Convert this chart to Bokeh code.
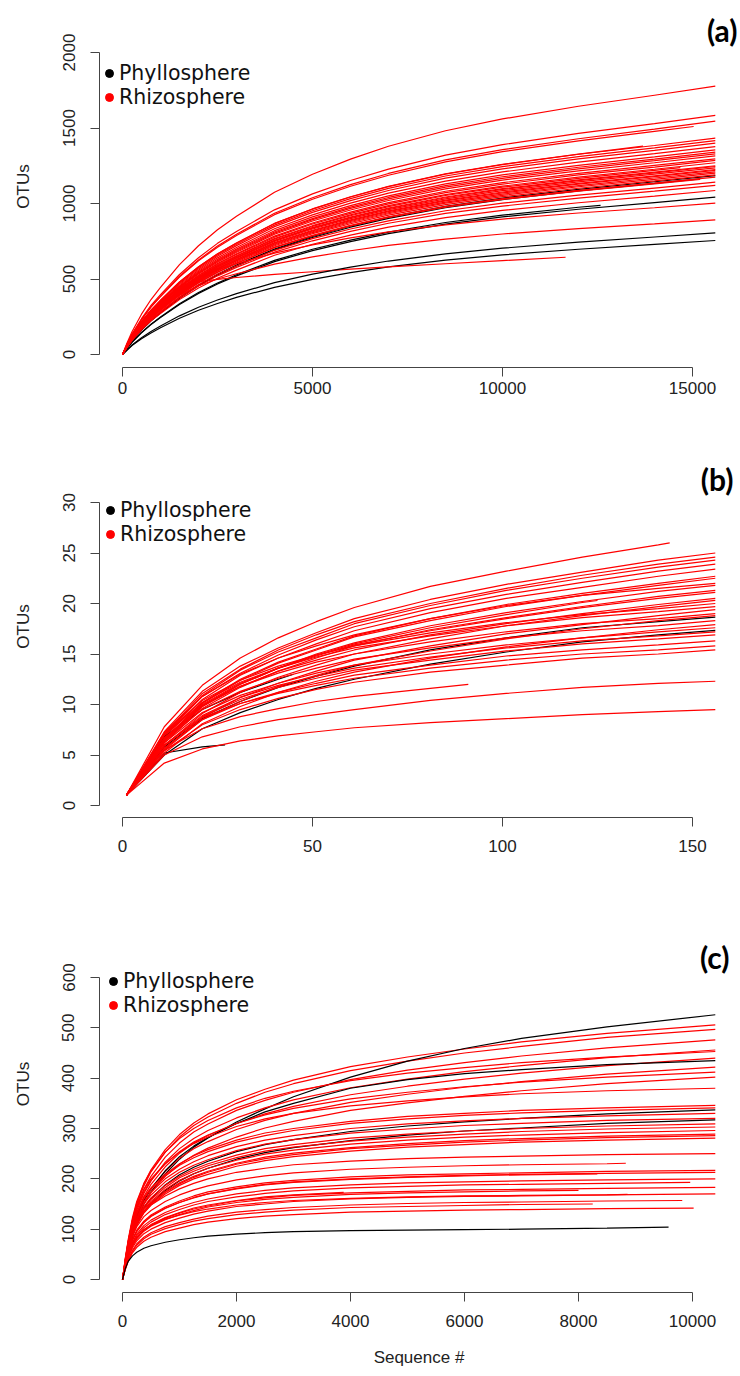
from bokeh.plotting import figure
from bokeh.layouts import column
from bokeh.models import (ColumnDataSource, Range1d, FixedTicker, Legend,
                          LegendItem, Label)
from bokeh.embed import file_html
from bokeh.resources import INLINE

P, R = "Phyllosphere", "Rhizosphere"
GROUP_COLOR = {P: "#000000", R: "#ff0000"}

# ---------------------------------------------------------------- panel (a)
# rarefaction depths at which each curve is sampled; a curve that stops
# earlier ends at its own depth (A_END), None = runs to the last depth
A_GRID = [0, 125, 250, 500, 750, 1000, 1500, 2000, 2500, 3000, 4000, 5000,
          6000, 7000, 8500, 10000, 12000, 14000, 15600]
A_XTICKS = [0, 5000, 10000, 15000]
A_YTICKS = [0, 500, 1000, 1500, 2000]
A_GROUP = [R, R, R, R, R, P, R, R, R, P, R, R, R, R, P, R, R, R, R, R,
           P, R, R, R, R, R, R, P, R, R, R, R, P, R, R, R, R, R, R]
A_END = [None, None, None, 15030, None, None, None, None, None, None,
         None, 13700, None, None, 12580, None, None, None, None, 14680,
         None, None, None, None, None, 11660, None, 15200, None, None,
         None, None, None, 15200, None, None, None, None, None]
A_OTUS = [
    [0, 80, 151, 267, 364, 444, 595, 720, 826, 915, 1075, 1194, 1294, 1379, 1482, 1560, 1644, 1717, 1777],
    [0, 71, 135, 237, 325, 396, 530, 641, 736, 815, 958, 1064, 1152, 1228, 1320, 1390, 1464, 1529, 1583],
    [0, 70, 131, 232, 317, 386, 518, 626, 718, 796, 935, 1038, 1125, 1199, 1289, 1357, 1429, 1492, 1545],
    [0, 69, 130, 230, 314, 383, 513, 620, 711, 788, 926, 1028, 1114, 1187, 1276, 1343, 1415, 1478, 1510],
    [0, 64, 122, 215, 294, 358, 480, 580, 666, 738, 867, 963, 1043, 1112, 1195, 1258, 1326, 1384, 1433],
    [0, 42, 81, 144, 198, 245, 331, 404, 467, 521, 615, 688, 748, 800, 863, 911, 962, 1006, 1042],
    [0, 64, 120, 213, 290, 354, 475, 574, 659, 730, 857, 952, 1032, 1100, 1182, 1244, 1311, 1369, 1417],
    [0, 63, 119, 210, 287, 350, 469, 567, 651, 721, 847, 941, 1019, 1086, 1168, 1229, 1295, 1352, 1400],
    [0, 62, 117, 207, 282, 344, 461, 558, 640, 709, 833, 925, 1002, 1069, 1148, 1209, 1274, 1330, 1377],
    [0, 30, 59, 104, 143, 177, 240, 293, 338, 378, 445, 498, 542, 580, 625, 660, 697, 729, 755],
    [0, 61, 115, 203, 278, 339, 454, 549, 630, 698, 820, 911, 986, 1051, 1130, 1190, 1253, 1309, 1355],
    [0, 65, 122, 215, 294, 359, 481, 581, 667, 739, 868, 964, 1045, 1114, 1197, 1260, 1327, 1380],
    [0, 60, 114, 201, 275, 335, 449, 543, 623, 690, 811, 900, 976, 1040, 1118, 1177, 1240, 1294, 1340],
    [0, 60, 113, 199, 272, 332, 445, 538, 618, 684, 804, 893, 968, 1031, 1108, 1167, 1229, 1284, 1329],
    [0, 42, 82, 146, 201, 248, 336, 410, 473, 528, 623, 697, 758, 811, 874, 923, 975, 987],
    [0, 59, 112, 197, 270, 329, 441, 533, 611, 677, 796, 884, 957, 1020, 1097, 1155, 1216, 1270, 1315],
    [0, 58, 110, 194, 266, 324, 434, 525, 603, 667, 784, 871, 943, 1006, 1081, 1138, 1199, 1252, 1296],
    [0, 58, 109, 193, 263, 321, 430, 520, 598, 662, 777, 864, 935, 997, 1072, 1128, 1189, 1241, 1285],
    [0, 57, 108, 191, 260, 318, 425, 514, 591, 654, 768, 853, 925, 986, 1059, 1115, 1175, 1227, 1270],
    [0, 57, 107, 189, 259, 316, 423, 511, 587, 650, 764, 848, 919, 979, 1053, 1108, 1167, 1219, 1237],
    [0, 47, 92, 164, 225, 278, 377, 460, 531, 593, 699, 782, 851, 910, 981, 1036, 1094, 1144, 1185],
    [0, 56, 106, 188, 256, 313, 419, 506, 581, 644, 756, 840, 910, 970, 1043, 1098, 1156, 1208, 1250],
    [0, 56, 106, 187, 255, 311, 417, 504, 579, 641, 753, 837, 906, 966, 1038, 1093, 1152, 1203, 1245],
    [0, 56, 105, 185, 253, 309, 414, 501, 575, 637, 748, 831, 900, 959, 1031, 1085, 1143, 1194, 1236],
    [0, 55, 104, 184, 251, 306, 410, 496, 570, 631, 741, 823, 892, 951, 1022, 1076, 1133, 1183, 1225],
    [0, 58, 110, 200, 280, 345, 440, 482, 498, 510, 530, 548, 565, 580, 601, 622, 644],
    [0, 55, 104, 183, 250, 305, 408, 494, 567, 628, 737, 819, 887, 946, 1017, 1070, 1128, 1178, 1219],
    [0, 47, 92, 162, 223, 276, 373, 456, 526, 587, 693, 775, 843, 902, 972, 1026, 1084, 1133, 1163],
    [0, 54, 103, 182, 248, 303, 405, 490, 563, 623, 732, 813, 881, 939, 1009, 1062, 1119, 1169, 1210],
    [0, 54, 102, 180, 246, 300, 402, 486, 558, 619, 727, 807, 874, 932, 1002, 1054, 1111, 1160, 1201],
    [0, 54, 101, 179, 244, 298, 399, 482, 553, 613, 720, 800, 866, 923, 992, 1045, 1101, 1150, 1190],
    [0, 53, 100, 176, 241, 294, 394, 476, 546, 605, 711, 790, 855, 912, 980, 1032, 1087, 1135, 1175],
    [0, 32, 63, 111, 153, 189, 256, 313, 361, 403, 476, 532, 579, 619, 667, 704, 744, 778, 806],
    [0, 53, 99, 176, 240, 293, 392, 474, 544, 603, 708, 786, 852, 908, 976, 1027, 1082, 1130, 1160],
    [0, 51, 97, 171, 234, 285, 382, 462, 531, 588, 690, 767, 831, 885, 952, 1002, 1055, 1102, 1141],
    [0, 50, 95, 168, 230, 280, 375, 454, 521, 577, 678, 753, 815, 869, 934, 983, 1036, 1082, 1120],
    [0, 49, 92, 163, 223, 272, 364, 440, 505, 559, 657, 730, 791, 843, 906, 954, 1005, 1049, 1086],
    [0, 70, 130, 220, 291, 351, 441, 511, 561, 601, 671, 726, 772, 812, 859, 897, 937, 972, 1002],
    [0, 62, 116, 196, 259, 312, 392, 455, 500, 535, 598, 647, 687, 723, 764, 798, 834, 865, 892],
]

# ---------------------------------------------------------------- panel (b)
B_GRID = [1, 11, 21, 31, 41, 51, 61, 81, 101, 121, 141, 156]
B_XTICKS = [0, 50, 100, 150]
B_YTICKS = [0, 5, 10, 15, 20, 25, 30]
B_GROUP = [R, R, R, R, R, R, P, R, R, R, R, R, P, R, R, R, R, R, P, R,
           R, R, R, R, P, R, R, R, R, R, R, R, R, R, R]
B_END = [144, None, None, None, None, None, 45, None, None, None,
         None, None, None, None, 125, None, None, None, 27, None,
         None, None, None, None, None, None, None, None, None, None,
         None, None, 91, None, None]
B_OTUS = [
    [1, 7.8, 11.9, 14.6, 16.6, 18.2, 19.6, 21.7, 23.2, 24.6, 25.8, 26.0],
    [1, 7.3, 11.3, 13.8, 15.6, 17.1, 18.5, 20.4, 21.9, 23.1, 24.3, 25.0],
    [1, 7.1, 11.1, 13.5, 15.4, 16.9, 18.2, 20.0, 21.5, 22.8, 23.9, 24.6],
    [1, 7.0, 10.9, 13.4, 15.2, 16.6, 18.0, 19.8, 21.3, 22.5, 23.6, 24.3],
    [1, 6.9, 10.8, 13.1, 14.9, 16.4, 17.7, 19.5, 20.9, 22.1, 23.2, 23.9],
    [1, 6.8, 10.5, 12.9, 14.6, 16.0, 17.3, 19.1, 20.5, 21.6, 22.7, 23.4],
    [1, 6.8, 9.5, 11.2, 12.5, 13.0],
    [1, 6.6, 10.2, 12.5, 14.2, 15.5, 16.8, 18.5, 19.9, 21.0, 22.0, 22.7],
    [1, 6.5, 10.1, 12.4, 14.1, 15.4, 16.7, 18.3, 19.7, 20.8, 21.8, 22.5],
    [1, 7.2, 10.8, 13.0, 14.6, 15.8, 16.9, 18.5, 19.8, 20.8, 21.5, 22.0],
    [1, 6.3, 9.8, 12.0, 13.6, 15.0, 16.1, 17.8, 19.1, 20.2, 21.2, 21.8],
    [1, 6.2, 9.6, 11.7, 13.3, 14.6, 15.8, 17.4, 18.6, 19.7, 20.7, 21.3],
    [1, 5.8, 8.6, 10.3, 11.7, 12.8, 13.8, 15.4, 16.6, 17.6, 18.2, 18.65],
    [1, 6.4, 10.0, 12.1, 13.6, 14.8, 15.9, 17.3, 18.5, 19.6, 20.5, 21.1],
    [1, 6.6, 9.9, 12.0, 13.6, 14.9, 16.0, 17.6, 18.9, 20.1, 20.3],
    [1, 6.5, 9.8, 11.8, 13.3, 14.4, 15.4, 16.9, 18.0, 19.0, 19.9, 20.5],
    [1, 5.9, 9.1, 11.2, 12.7, 13.9, 15.0, 16.5, 17.8, 18.8, 19.7, 20.3],
    [1, 7.0, 10.4, 12.4, 13.8, 14.9, 15.8, 17.1, 18.1, 18.9, 19.5, 20.0],
    [1, 5.2, 5.8, 6.0],
    [1, 6.9, 10.2, 12.2, 13.6, 14.7, 15.6, 16.8, 17.8, 18.6, 19.2, 19.7],
    [1, 5.6, 8.7, 10.7, 12.1, 13.3, 14.4, 15.8, 17.0, 17.9, 18.8, 19.4],
    [1, 6.7, 9.9, 11.8, 13.1, 14.2, 15.0, 16.2, 17.2, 18.0, 18.5, 19.0],
    [1, 5.5, 8.5, 10.3, 11.8, 12.9, 13.9, 15.3, 16.5, 17.5, 18.3, 18.8],
    [1, 6.4, 9.5, 11.3, 12.6, 13.6, 14.5, 15.6, 16.6, 17.3, 17.8, 18.3],
    [1, 5.0, 7.6, 9.2, 10.5, 11.6, 12.5, 14.0, 15.2, 16.2, 16.9, 17.33],
    [1, 5.2, 8.1, 9.8, 11.2, 12.3, 13.2, 14.6, 15.7, 16.6, 17.4, 17.9],
    [1, 6.2, 9.2, 10.9, 12.1, 13.1, 13.9, 15.0, 15.9, 16.6, 17.2, 17.6],
    [1, 6.0, 8.9, 10.7, 11.9, 12.8, 13.6, 14.7, 15.6, 16.3, 16.8, 17.2],
    [1, 5.9, 8.8, 10.5, 11.7, 12.6, 13.4, 14.4, 15.3, 16.0, 16.5, 16.9],
    [1, 5.7, 8.5, 10.1, 11.2, 12.1, 12.9, 13.9, 14.8, 15.4, 15.9, 16.3],
    [1, 6.0, 8.7, 10.1, 11.1, 11.9, 12.6, 13.6, 14.4, 15.0, 15.4, 15.8],
    [1, 5.4, 8.0, 9.5, 10.6, 11.5, 12.2, 13.2, 13.9, 14.6, 15.0, 15.4],
    [1, 5.5, 7.6, 8.8, 9.6, 10.3, 10.8, 11.6, 12.0],
    [1, 5.0, 6.8, 7.8, 8.5, 9.0, 9.5, 10.4, 11.1, 11.7, 12.1, 12.3],
    [1, 4.2, 5.6, 6.4, 6.9, 7.3, 7.7, 8.2, 8.6, 9.0, 9.3, 9.5],
]

# ---------------------------------------------------------------- panel (c)
C_GRID = [0, 50, 100, 175, 250, 375, 500, 750, 1000, 1250, 1500, 2000, 2500,
          3000, 4000, 5000, 6000, 7000, 8500, 10400]
C_XTICKS = [0, 2000, 4000, 6000, 8000, 10000]
C_YTICKS = [0, 100, 200, 300, 400, 500, 600]
C_GROUP = [R, R, R, P, R, R, R, R, P, R, R, R, R, R, P, R, R, P, R, R,
           R, R, R, R, R, R, R, R, R, R, R, R, R, R, R, R, R, R, R, P]
C_END = [None, None, None, None, None, None, None, None, None, None,
         None, None, None, None, None, None, None, None, None, None,
         None, None, None, None, None, 8830, None, None, 8330, None,
         9960, None, 8000, 3880, None, 8860, 9820, 8250, 10020, 9580]
C_OTUS = [
    [0, 40, 76, 119, 152, 190, 218, 258, 288, 311, 329, 357, 378, 396, 423, 442, 458, 472, 489, 506],
    [0, 40, 75, 117, 149, 186, 214, 253, 283, 306, 323, 350, 372, 389, 415, 434, 450, 463, 481, 497],
    [0, 38, 71, 112, 143, 179, 205, 243, 271, 293, 309, 336, 356, 372, 397, 416, 431, 444, 460, 476],
    [0, 29, 53, 87, 116, 150, 174, 210, 239, 263, 281, 313, 339, 363, 402, 434, 459, 479, 502, 526],
    [0, 36, 68, 107, 137, 171, 196, 233, 260, 280, 296, 321, 341, 357, 381, 398, 413, 425, 441, 456],
    [0, 43, 79, 123, 155, 191, 216, 253, 280, 300, 316, 341, 360, 374, 395, 410, 421, 431, 442, 453],
    [0, 35, 66, 103, 132, 165, 189, 224, 251, 271, 286, 310, 329, 344, 367, 384, 398, 410, 425, 440],
    [0, 34, 63, 99, 127, 158, 181, 215, 241, 260, 274, 298, 316, 330, 352, 368, 382, 393, 408, 422],
    [0, 30, 60, 96, 125, 157, 180, 216, 244, 265, 282, 310, 333, 350, 380, 397, 409, 417, 427, 435],
    [0, 39, 72, 112, 141, 174, 197, 230, 254, 273, 287, 310, 327, 340, 359, 372, 383, 392, 402, 412],
    [0, 32, 60, 94, 121, 151, 173, 205, 229, 247, 261, 283, 301, 314, 336, 351, 364, 375, 389, 402],
    [0, 42, 76, 118, 146, 179, 200, 230, 253, 270, 283, 304, 319, 330, 345, 355, 363, 369, 375, 380],
    [0, 38, 69, 107, 133, 163, 182, 209, 230, 246, 258, 277, 291, 300, 314, 324, 330, 336, 341, 346],
    [0, 38, 68, 106, 131, 160, 179, 206, 227, 242, 254, 273, 286, 296, 310, 319, 326, 331, 336, 341],
    [0, 32, 59, 92, 115, 142, 161, 188, 208, 223, 235, 254, 268, 278, 294, 305, 313, 320, 329, 337],
    [0, 36, 66, 102, 127, 155, 173, 200, 219, 234, 246, 264, 277, 286, 300, 309, 315, 320, 325, 330],
    [0, 35, 64, 99, 123, 150, 168, 194, 213, 227, 238, 256, 269, 278, 291, 299, 306, 310, 316, 320],
    [0, 30, 55, 86, 109, 134, 151, 177, 196, 210, 221, 239, 252, 262, 276, 287, 295, 301, 310, 317],
    [0, 34, 62, 96, 119, 145, 162, 187, 205, 219, 230, 247, 260, 268, 281, 289, 295, 300, 305, 309],
    [0, 33, 61, 94, 117, 142, 159, 183, 202, 215, 226, 242, 255, 263, 275, 283, 289, 294, 299, 303],
    [0, 33, 59, 92, 114, 139, 155, 179, 197, 210, 221, 237, 249, 257, 269, 277, 283, 287, 292, 296],
    [0, 32, 58, 90, 111, 136, 152, 175, 192, 205, 215, 231, 243, 251, 262, 270, 276, 280, 285, 289],
    [0, 31, 57, 89, 110, 134, 150, 173, 190, 203, 213, 229, 240, 248, 260, 267, 273, 277, 282, 286],
    [0, 31, 56, 87, 108, 132, 148, 170, 187, 200, 209, 225, 236, 244, 255, 263, 268, 273, 277, 281],
    [0, 35, 63, 93, 113, 134, 148, 166, 180, 191, 200, 213, 221, 228, 235, 240, 243, 245, 248, 250],
    [0, 33, 58, 86, 105, 125, 137, 155, 168, 178, 186, 198, 206, 212, 219, 223, 226, 228, 230, 231],
    [0, 30, 54, 80, 98, 116, 128, 144, 156, 166, 174, 184, 192, 197, 204, 208, 210, 212, 215, 217],
    [0, 30, 53, 79, 96, 114, 126, 142, 153, 163, 170, 181, 189, 194, 200, 204, 207, 209, 211, 213],
    [0, 30, 53, 78, 95, 113, 125, 141, 153, 162, 170, 180, 188, 193, 199, 203, 206, 208, 210],
    [0, 28, 50, 74, 90, 107, 118, 133, 144, 153, 160, 170, 177, 182, 188, 192, 194, 196, 198, 200],
    [0, 27, 48, 72, 87, 103, 114, 129, 139, 148, 155, 164, 171, 176, 182, 185, 188, 189, 191, 193],
    [0, 26, 46, 68, 82, 98, 108, 122, 132, 140, 146, 156, 162, 167, 172, 175, 178, 179, 181, 183],
    [0, 25, 45, 66, 81, 96, 106, 119, 129, 137, 144, 153, 159, 163, 169, 172, 174, 176, 177],
    [0, 26, 46, 68, 83, 99, 109, 123, 133, 142, 148, 157, 164, 168, 173],
    [0, 24, 43, 63, 77, 91, 100, 113, 122, 130, 136, 145, 150, 155, 160, 163, 165, 166, 168, 170],
    [0, 27, 48, 70, 84, 99, 108, 120, 128, 135, 140, 148, 153, 157, 161, 164, 166, 167, 168, 169],
    [0, 22, 39, 58, 71, 84, 93, 105, 113, 120, 126, 134, 139, 143, 148, 151, 153, 154, 156, 157],
    [0, 21, 38, 56, 68, 81, 90, 101, 109, 116, 121, 129, 134, 138, 143, 145, 147, 149, 150],
    [0, 20, 36, 53, 64, 76, 84, 95, 102, 109, 114, 121, 126, 129, 134, 136, 138, 139, 141, 142],
    [0, 22, 36, 47, 54, 62, 67, 74, 79, 83, 86, 90, 93, 95, 97, 98, 99, 100, 102, 104],
]

# ---------------------------------------------------------------- layout
WIDTH = 740
FRAME_LEFT, FRAME_RIGHT, FRAME_TOP = 99, 738, 5
X0_PX, XLAST_PX = 122, 692          # where x = 0 and the last x tick sit
TICK_FONT = "Liberation Sans"
LEGEND_FONT = "DejaVu Sans"
NAN = float("nan")
DOT_BOX = 20                        # legend glyph box -> ~8 px dot


def curve_x(grid, end):
    if end is None:
        return list(grid)
    return [g for g in grid if g < end] + [end]


def make_panel(tag, grid, groups, ends, otus, xticks, yticks, height,
               frame_bottom, y0_px, ytop_px, dot_x, legend_top,
               tag_right, tag_mid, xlabel_standoff=13, x_label=None):
    x_per = (XLAST_PX - X0_PX) / xticks[-1]
    y_per = (y0_px - ytop_px) / yticks[-1]
    p = figure(width=WIDTH, height=height, output_backend="svg",
               toolbar_location=None,
               x_range=Range1d((FRAME_LEFT - X0_PX) / x_per,
                               (FRAME_RIGHT - X0_PX) / x_per),
               y_range=Range1d((y0_px - frame_bottom) / y_per,
                               (y0_px - FRAME_TOP) / y_per),
               min_border_left=FRAME_LEFT, min_border_right=WIDTH - FRAME_RIGHT,
               min_border_top=FRAME_TOP, min_border_bottom=height - frame_bottom)
    p.outline_line_color = None
    p.grid.visible = False
    p.background_fill_color = "white"
    p.border_fill_color = "white"

    xs, ys, cols = [], [], []
    for g, e, v in zip(groups, ends, otus):
        x = curve_x(grid, e)
        n = min(len(x), len(v))
        xs.append(x[:n])
        ys.append(v[:n])
        cols.append(GROUP_COLOR[g])
    src = ColumnDataSource(dict(xs=xs, ys=ys, color=cols))
    p.multi_line(xs="xs", ys="ys", line_color="color", line_width=1.2,
                 source=src)

    for ax, ticks in ((p.xaxis, xticks), (p.yaxis, yticks)):
        ax.ticker = FixedTicker(ticks=ticks)
        ax.bounds = (ticks[0], ticks[-1])
        ax.axis_line_color = "#444444"
        ax.major_tick_line_color = "#444444"
        ax.minor_tick_line_color = None
        ax.major_tick_in = 0
        ax.major_tick_out = 9
        ax.major_label_text_font = TICK_FONT
        ax.major_label_text_font_size = "17px"
        ax.major_label_text_color = "#222222"
        ax.axis_label_text_font = TICK_FONT
        ax.axis_label_text_font_size = "17px"
        ax.axis_label_text_font_style = "normal"
        ax.axis_label_text_color = "#222222"
    p.xaxis.major_label_standoff = xlabel_standoff
    p.yaxis.major_label_standoff = 16
    p.yaxis.major_label_orientation = "parallel"
    p.yaxis.axis_label = "OTUs"
    p.yaxis.axis_label_standoff = 27
    if x_label:
        p.xaxis.axis_label = x_label
        p.xaxis.axis_label_standoff = 18

    # legend: dot markers next to the group names (the marker renderers
    # carry no drawable point, they only supply the legend glyphs)
    r_p = p.scatter(x=[NAN], y=[NAN], marker="circle", size=8,
                    color=GROUP_COLOR[P])
    r_r = p.scatter(x=[NAN], y=[NAN], marker="circle", size=8,
                    color=GROUP_COLOR[R])
    row_h = 24
    legend = Legend(
        items=[LegendItem(label=P, renderers=[r_p], index=0),
               LegendItem(label=R, renderers=[r_r], index=0)],
        location=(dot_x - DOT_BOX // 2 - FRAME_LEFT,
                  frame_bottom - (legend_top + 2 * row_h)),
        padding=0, margin=0, spacing=0,
        glyph_width=DOT_BOX, glyph_height=row_h, label_height=row_h,
        label_standoff=0,
        label_text_font=LEGEND_FONT, label_text_font_size="20.5px",
        label_text_color="#111111",
        border_line_color=None, background_fill_alpha=0)
    p.add_layout(legend)

    p.add_layout(Label(x=tag_right - FRAME_LEFT, y=frame_bottom - tag_mid,
                       x_units="screen", y_units="screen", text=tag,
                       text_align="right", text_baseline="middle",
                       text_font="Lato", text_font_style="bold",
                       text_font_size="30px", text_color="#000000"))
    return p


pa = make_panel("(a)", A_GRID, A_GROUP, A_END, A_OTUS, A_XTICKS, A_YTICKS,
                height=430, frame_bottom=367, y0_px=354, ytop_px=52,
                dot_x=109, legend_top=61, tag_right=737, tag_mid=29,
                xlabel_standoff=5)
pb = make_panel("(b)", B_GRID, B_GROUP, B_END, B_OTUS, B_XTICKS, B_YTICKS,
                height=440, frame_bottom=387, y0_px=375, ytop_px=72,
                dot_x=110, legend_top=68, tag_right=733, tag_mid=48)
pc = make_panel("(c)", C_GRID, C_GROUP, C_END, C_OTUS, C_XTICKS, C_YTICKS,
                height=506, frame_bottom=422, y0_px=409, ytop_px=107,
                dot_x=113, legend_top=99, tag_right=729, tag_mid=86,
                x_label="Sequence #")

layout = column(pa, pb, pc, spacing=0)
open("out.html", "w").write(file_html(layout, INLINE))
